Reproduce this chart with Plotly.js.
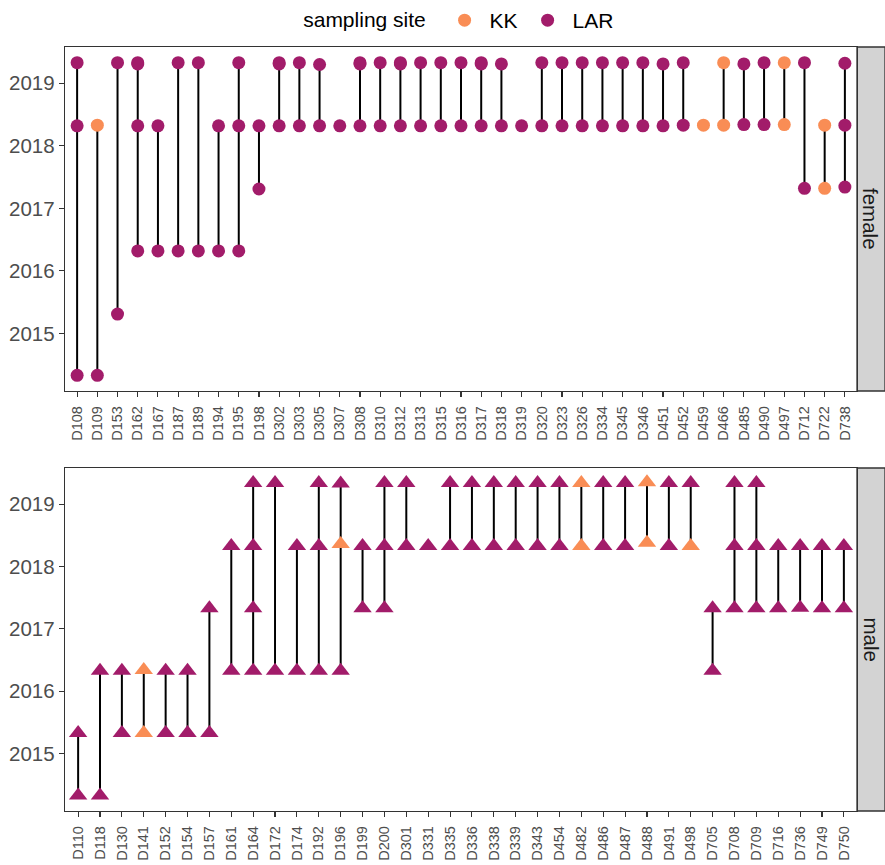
<!DOCTYPE html>
<html>
<head>
<meta charset="utf-8">
<script src="https://cdn.plot.ly/plotly-3.0.1.min.js"></script>
<style>html,body{margin:0;padding:0;background:#fff;}#chart{width:885px;height:865px;}</style>
</head>
<body>
<div id="chart"></div>
<script>
// ---------- data ----------
const femaleIds = ["D108","D109","D153","D162","D167","D187","D189","D194","D195","D198","D302","D303","D305","D307","D308","D310","D312","D313","D315","D316","D317","D318","D319","D320","D323","D326","D334","D345","D346","D451","D452","D459","D466","D485","D490","D497","D712","D722","D738"];
const maleIds = ["D110","D118","D130","D141","D152","D154","D157","D161","D164","D172","D174","D192","D196","D199","D200","D301","D331","D335","D336","D338","D339","D343","D454","D482","D486","D487","D488","D491","D498","D705","D708","D709","D716","D736","D749","D750"];

// female observations (long format)
const femaleObsId = [
 "D108","D108","D108","D109","D109","D153","D153","D162","D162","D162","D162","D167","D167","D187","D187","D189","D189","D194","D194","D195","D195","D195","D198","D198",
 "D302","D302","D302","D303","D303","D305","D305","D307","D308","D308","D308","D310","D310","D312","D312","D312","D313","D313","D315","D315","D316","D316","D317","D317","D317","D318","D318","D319",
 "D320","D320","D323","D323","D326","D326","D334","D334","D345","D345","D346","D346","D451","D451","D452","D452","D459","D466","D466","D485","D485","D490","D490","D497","D497","D712","D712","D722","D722","D738","D738","D738"];
const femaleObsDate = [
 2019.33,2018.32,2014.33,2018.33,2014.33,2019.33,2015.31,2019.33,2019.31,2018.32,2016.32,2018.32,2016.32,2019.33,2016.32,2019.33,2016.32,2018.32,2016.32,2019.33,2018.32,2016.32,2018.32,2017.31,
 2019.33,2019.31,2018.32,2019.33,2018.32,2019.30,2018.32,2018.32,2019.33,2019.31,2018.32,2019.33,2018.32,2019.33,2019.31,2018.32,2019.33,2018.32,2019.33,2018.32,2019.33,2018.32,2019.33,2019.31,2018.32,2019.31,2018.32,2018.32,
 2019.33,2018.32,2019.33,2018.32,2019.33,2018.32,2019.33,2018.32,2019.33,2018.32,2019.33,2018.32,2019.31,2018.32,2019.33,2018.33,2018.33,2019.33,2018.33,2019.31,2018.34,2019.33,2018.34,2019.33,2018.34,2019.33,2017.32,2018.33,2017.32,2019.32,2018.33,2017.34];
const femaleObsSite = [
 "LAR","LAR","LAR","KK","LAR","LAR","LAR","LAR","LAR","LAR","LAR","LAR","LAR","LAR","LAR","LAR","LAR","LAR","LAR","LAR","LAR","LAR","LAR","LAR",
 "LAR","LAR","LAR","LAR","LAR","LAR","LAR","LAR","LAR","LAR","LAR","LAR","LAR","LAR","LAR","LAR","LAR","LAR","LAR","LAR","LAR","LAR","LAR","LAR","LAR","LAR","LAR","LAR",
 "LAR","LAR","LAR","LAR","LAR","LAR","LAR","LAR","LAR","LAR","LAR","LAR","LAR","LAR","LAR","LAR","KK","KK","KK","LAR","LAR","LAR","LAR","KK","KK","LAR","LAR","KK","KK","LAR","LAR","LAR"];

// male observations (long format)
const maleObsId = [
 "D110","D110","D118","D118","D130","D130","D141","D141","D152","D152","D154","D154","D157","D157","D161","D161","D164","D164","D164","D164","D172","D172","D174","D174",
 "D192","D192","D192","D196","D196","D196","D199","D199","D200","D200","D200","D301","D301","D331","D335","D335","D336","D336","D338","D338","D339","D339","D343","D343","D454","D454",
 "D482","D482","D486","D486","D487","D487","D488","D488","D491","D491","D498","D498","D705","D705","D708","D708","D708","D709","D709","D709","D716","D716","D736","D736","D749","D749","D750","D750"];
const maleObsDate = [
 2015.33,2014.33,2016.33,2014.33,2016.33,2015.33,2016.34,2015.33,2016.33,2015.33,2016.33,2015.33,2017.33,2015.33,2018.33,2016.33,2019.34,2018.33,2017.33,2016.33,2019.34,2016.33,2018.33,2016.33,
 2019.34,2018.33,2016.33,2019.33,2018.36,2016.33,2018.33,2017.33,2019.34,2018.33,2017.33,2019.34,2018.33,2018.33,2019.34,2018.33,2019.34,2018.33,2019.34,2018.33,2019.34,2018.33,2019.34,2018.33,2019.34,2018.33,
 2019.34,2018.33,2019.34,2018.33,2019.34,2018.33,2019.35,2018.38,2019.34,2018.33,2019.34,2018.33,2017.33,2016.33,2019.34,2018.33,2017.33,2019.34,2018.33,2017.33,2018.33,2017.33,2018.33,2017.34,2018.33,2017.33,2018.33,2017.33];
const maleObsSite = [
 "LAR","LAR","LAR","LAR","LAR","LAR","KK","KK","LAR","LAR","LAR","LAR","LAR","LAR","LAR","LAR","LAR","LAR","LAR","LAR","LAR","LAR","LAR","LAR",
 "LAR","LAR","LAR","LAR","KK","LAR","LAR","LAR","LAR","LAR","LAR","LAR","LAR","LAR","LAR","LAR","LAR","LAR","LAR","LAR","LAR","LAR","LAR","LAR","LAR","LAR",
 "KK","KK","LAR","LAR","LAR","LAR","KK","KK","LAR","LAR","LAR","KK","LAR","LAR","LAR","LAR","LAR","LAR","LAR","LAR","LAR","LAR","LAR","LAR","LAR","LAR","LAR","LAR"];

const sites = ["KK","LAR"];
const yTicks = [2015, 2016, 2017, 2018, 2019];
const panelLabels = ["female", "male"];

// ---------- styles ----------
const siteColor = {KK: "#F98D55", LAR: "#A21C6A"};
const W = 885, H = 865;
const xDom = [65 / W, 857 / W];
const topDom = [(H - 391) / H, (H - 47) / H];
const botDom = [(H - 811) / H, (H - 468) / H];

function segTrace(ids, dates, xa, ya) {
  const order = [];
  const mn = {}, mx = {};
  ids.forEach((id, i) => {
    if (!(id in mn)) { order.push(id); mn[id] = dates[i]; mx[id] = dates[i]; }
    mn[id] = Math.min(mn[id], dates[i]); mx[id] = Math.max(mx[id], dates[i]);
  });
  const x = [], y = [];
  order.forEach(id => { x.push(id, id, null); y.push(mn[id], mx[id], null); });
  return {x, y, xaxis: xa, yaxis: ya, type: "scatter", mode: "lines",
    line: {color: "#000000", width: 2}, hoverinfo: "skip", showlegend: false, connectgaps: false};
}
function ptTraces(ids, dates, siteArr, xa, ya, symbol, size, showLegend) {
  return sites.map(s => {
    const x = [], y = [];
    ids.forEach((id, i) => { if (siteArr[i] === s) { x.push(id); y.push(dates[i]); } });
    return {x, y, xaxis: xa, yaxis: ya, type: "scatter", mode: "markers", name: s,
      legendgroup: s, showlegend: showLegend,
      marker: {color: siteColor[s], size: size, symbol: symbol, line: {width: 0}}};
  });
}

const data = [
  segTrace(femaleObsId, femaleObsDate, "x", "y"),
  ...ptTraces(femaleObsId, femaleObsDate, femaleObsSite, "x", "y", "circle", 13, true),
  segTrace(maleObsId, maleObsDate, "x2", "y2"),
  ...ptTraces(maleObsId, maleObsDate, maleObsSite, "x2", "y2", "triangle-up", 16, false)
];

const axisCommon = {
  showgrid: false, zeroline: false, showline: true, mirror: true,
  linecolor: "#333333", linewidth: 1.3, ticks: "outside", ticklen: 5,
  tickcolor: "#333333", tickwidth: 1.1, automargin: false
};
const yRange = [2014.08, 2019.58];

const layout = {
  width: W, height: H,
  margin: {l: 0, r: 0, t: 0, b: 0},
  paper_bgcolor: "#ffffff", plot_bgcolor: "#ffffff",
  font: {family: "Liberation Sans, Arial, sans-serif", color: "#000000"},
  showlegend: true,
  legend: {
    orientation: "h", x: 0.52, xanchor: "center", y: 1.0, yanchor: "top",
    title: {text: "sampling site ", font: {size: 21, color: "#000000"}, side: "left"},
    font: {size: 21, color: "#000000"}, itemwidth: 40, tracegroupgap: 0
  },
  xaxis: Object.assign({}, axisCommon, {
    domain: xDom, anchor: "y", type: "category", categoryorder: "array",
    categoryarray: femaleIds, tickvals: femaleIds, range: [-0.6, femaleIds.length - 0.4],
    tickangle: -90, tickfont: {size: 14.5, color: "#4D4D4D"}, ticklabelstandoff: 3
  }),
  yaxis: Object.assign({}, axisCommon, {
    domain: topDom, anchor: "x", range: yRange, tickvals: yTicks,
    ticktext: yTicks.map(String), tickfont: {size: 20.5, color: "#4D4D4D"}
  }),
  xaxis2: Object.assign({}, axisCommon, {
    domain: xDom, anchor: "y2", type: "category", categoryorder: "array",
    categoryarray: maleIds, tickvals: maleIds, range: [-0.6, maleIds.length - 0.4],
    tickangle: -90, tickfont: {size: 14.5, color: "#4D4D4D"}, ticklabelstandoff: 3
  }),
  yaxis2: Object.assign({}, axisCommon, {
    domain: botDom, anchor: "x2", range: yRange, tickvals: yTicks,
    ticktext: yTicks.map(String), tickfont: {size: 20.5, color: "#4D4D4D"}
  }),
  shapes: [topDom, botDom].map(d => ({
    type: "rect", xref: "paper", yref: "paper", x0: 857 / W, x1: 1.0, y0: d[0], y1: d[1],
    fillcolor: "#D3D3D3", line: {color: "#333333", width: 1.3}, layer: "below"
  })),
  annotations: [topDom, botDom].map((d, i) => ({
    xref: "paper", yref: "paper", x: 871 / W, y: (d[0] + d[1]) / 2,
    text: panelLabels[i], showarrow: false, textangle: 90,
    font: {size: 20.5, color: "#1A1A1A"}, xanchor: "center", yanchor: "middle"
  }))
};

Plotly.newPlot("chart", data, layout, {displayModeBar: false, staticPlot: true});
</script>
</body>
</html>
